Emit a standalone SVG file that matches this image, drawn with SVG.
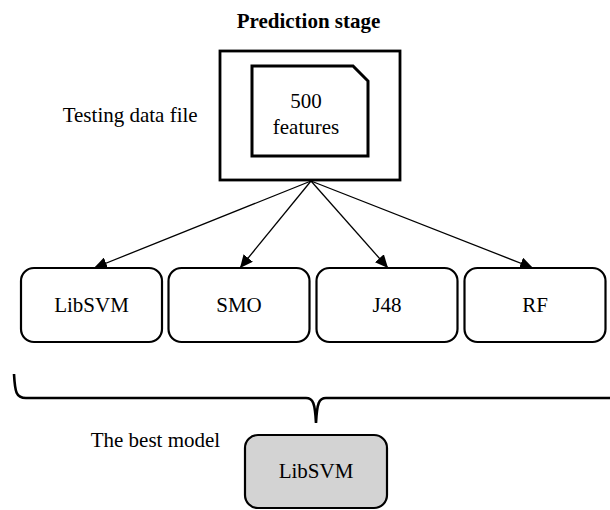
<svg xmlns="http://www.w3.org/2000/svg" width="610" height="510" viewBox="0 0 610 510">
<style>
text{font-family:"Liberation Serif","Times New Roman",serif;font-size:21px;fill:#000}
.c{text-anchor:middle}
.box{fill:#fff;stroke:#000;stroke-width:2.2}
.best{fill:#d3d3d3;stroke:#000;stroke-width:2.2}
.edge{stroke:#000;stroke-width:1.3;fill:none;marker-end:url(#ah)}
</style>
<defs>
<marker id="ah" markerUnits="userSpaceOnUse" markerWidth="14" markerHeight="12" refX="13" refY="6" orient="auto" viewBox="0 0 14 12">
<path d="M0,0 L13,6 L0,12 z" fill="#000"/>
</marker>
</defs>
<rect width="610" height="510" fill="#fff"/>
<text id="title" class="c" x="308.5" y="28" font-weight="bold">Prediction stage</text>
<g id="testing-file">
<rect x="220" y="51" width="180" height="129" fill="#fff" stroke="#000" stroke-width="2.8"/>
<path d="M252,66 L353,66 L368,81 L368,156 L252,156 Z" fill="#fff" stroke="#000" stroke-width="3"/>
<text class="c" x="306" y="108">500</text>
<text class="c" x="306" y="134">features</text>
</g>
<text id="testing-label" x="62.7" y="122">Testing data file</text>
<g id="connectors">
<line class="edge" x1="311" y1="181" x2="94" y2="268"/>
<line class="edge" x1="311" y1="181" x2="240" y2="268"/>
<line class="edge" x1="311" y1="181" x2="388" y2="268"/>
<line class="edge" x1="311" y1="181" x2="533" y2="268"/>
<path d="M14,374 C15,392 16,398 26,398 L306,398 C313,398 315,403 316,423 C317,403 319,398 326,398 L612,398" fill="none" stroke="#000" stroke-width="2.6"/>
</g>
<g id="libsvm">
<rect class="box" x="21" y="268" width="141" height="74" rx="13"/>
<text class="c" x="91.5" y="312">LibSVM</text>
</g>
<g id="smo">
<rect class="box" x="168.5" y="268" width="141" height="74" rx="13"/>
<text class="c" x="239" y="312">SMO</text>
</g>
<g id="j48">
<rect class="box" x="316.5" y="268" width="141" height="74" rx="13"/>
<text class="c" x="387" y="312">J48</text>
</g>
<g id="rf">
<rect class="box" x="464.5" y="268" width="141" height="74" rx="13"/>
<text class="c" x="535" y="312">RF</text>
</g>
<text id="best-label" x="90.7" y="447">The best model</text>
<g id="best-model">
<rect class="best" x="245" y="435" width="142" height="73" rx="13"/>
<text class="c" x="316" y="478">LibSVM</text>
</g>
</svg>
